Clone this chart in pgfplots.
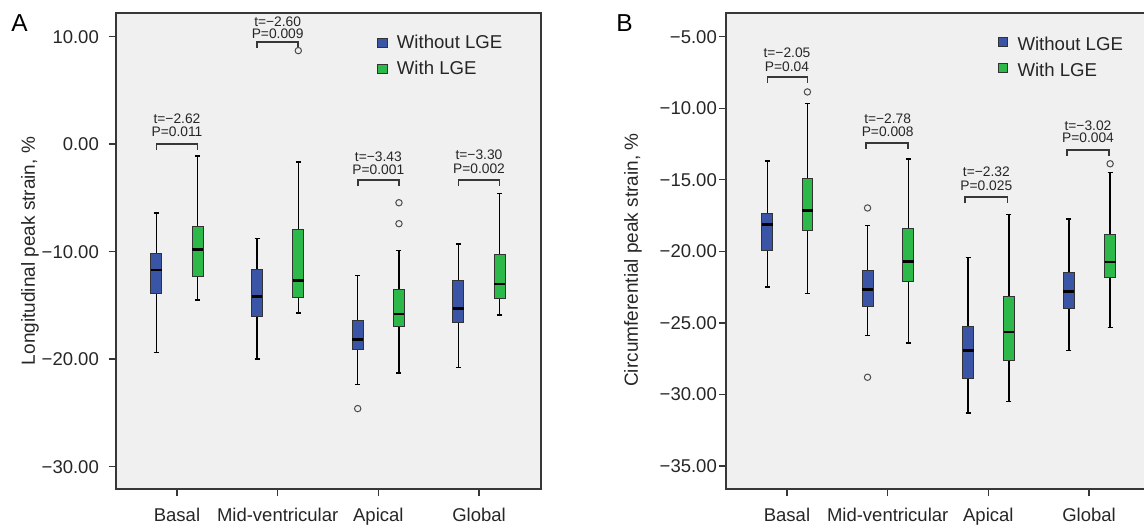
\documentclass[border=0pt]{standalone}
\usepackage{pgfplots}
\pgfplotsset{compat=1.18}
\usepgfplotslibrary{statistics}
\usepackage{fontspec}
\setmainfont{Liberation Sans}
\definecolor{bluebox}{RGB}{58,84,166}
\definecolor{greenbox}{RGB}{45,184,74}
\definecolor{bgc}{RGB}{240,240,240}
\definecolor{framec}{RGB}{55,55,55}

% draw position, lower whisker, lower quartile, median, upper quartile, upper whisker, colour
\newcommand{\bx}[7]{\addplot[boxplot prepared={draw position=#1, lower whisker=#2, lower quartile=#3, median=#4, upper quartile=#5, upper whisker=#6}, fill=#7, draw=black!80, line width=0.9pt] coordinates {};}
\newcommand{\brk}[3]{\draw[framec, line width=1.7pt] ([yshift=-6pt]axis cs:#1,#3) -- (axis cs:#1,#3) -- (axis cs:#2,#3) -- ([yshift=-6pt]axis cs:#2,#3);}
\newcommand{\tp}[5]{\node[font=\fontsize{13.8}{15}\selectfont, inner sep=0pt, text=black!85] at (axis cs:#1,#2) {#3};
  \node[font=\fontsize{13.8}{15}\selectfont, inner sep=0pt, text=black!85] at (axis cs:#1,#4) {#5};}
% legend: square x-offset, square top offset, text x-offset, text baseline offset (from top-left of axis)
\newcommand{\lgd}[4]{%
  \draw[fill=bluebox, draw=black!80, line width=0.8pt] ([xshift=#1, yshift=-#2]rel axis cs:0,1) rectangle ++(9.5pt,-9.5pt);
  \draw[fill=greenbox, draw=black!80, line width=0.8pt] ([xshift=#1, yshift=-#2-26pt]rel axis cs:0,1) rectangle ++(9.5pt,-9.5pt);
  \node[anchor=base west, inner sep=0pt, font=\fontsize{18.6}{20}\selectfont, text=black!85] at ([xshift=#3, yshift=-#4]rel axis cs:0,1) {Without LGE};
  \node[anchor=base west, inner sep=0pt, font=\fontsize{18.6}{20}\selectfont, text=black!85] at ([xshift=#3, yshift=-#4-26pt]rel axis cs:0,1) {With LGE};}

\pgfplotsset{
  mystyle/.style={
    scale only axis, width=425pt, height=476pt, anchor=south west,
    xmin=0.394, xmax=4.616,
    xtick={1,2,3,4}, xticklabels={Basal,Mid-ventricular,Apical,Global},
    xtick pos=bottom, ytick pos=left,
    tick align=outside, major tick length=7pt,
    tick style={framec, line width=1.3pt},
    minor tick num=0,
    axis background/.style={fill=bgc},
    axis line style={framec, line width=1.5pt},
    ticklabel style={font=\fontsize{18.5}{20}\selectfont, text=black!85},
    yticklabel style={inner sep=0pt, anchor=east},
    xticklabel style={inner sep=0pt, text height=13.5pt, text depth=4pt, anchor=north, yshift=-12pt},
    clip=false,
    boxplot/draw direction=y,
    boxplot/box extend=0.108,
    boxplot/whisker extend=0.05,
    boxplot/every whisker/.style={black, line width=1.5pt},
    boxplot/every median/.style={black, line width=2.6pt},
  },
  outl/.style={only marks, mark=*, mark size=3.2pt, mark options={fill=bgc, draw=black!70, line width=1pt}},
}

\begin{document}
\begin{tikzpicture}
% ---------------- Panel A ----------------
\begin{axis}[mystyle, at={(116pt,-489pt)},
  ymin=-32.08, ymax=12.2,
  ytick={-30,-20,-10,0,10}, yticklabels={−30.00,−20.00,−10.00,0.00,10.00},
  yticklabel style={xshift=-10pt},
  every axis y label/.style={at={(rel axis cs:0,0.5)}, anchor=center, xshift=-86pt, rotate=90, font=\fontsize{19}{21}\selectfont, text=black!85},
  ylabel={Longitudinal peak strain, \%},
]
\bx{0.795}{-19.4}{-13.9}{-11.7}{-10.2}{-6.4}{bluebox}
\bx{1.205}{-14.5}{-12.3}{-9.8}{-7.7}{-1.1}{greenbox}
\bx{1.795}{-20.0}{-16.0}{-14.2}{-11.65}{-8.8}{bluebox}
\bx{2.205}{-15.7}{-14.3}{-12.7}{-7.9}{-1.65}{greenbox}
\bx{2.795}{-22.35}{-19.1}{-18.2}{-16.4}{-12.2}{bluebox}
\bx{3.205}{-21.3}{-17.0}{-15.8}{-13.5}{-9.9}{greenbox}
\bx{3.795}{-20.8}{-16.6}{-15.3}{-12.7}{-9.3}{bluebox}
\bx{4.205}{-15.9}{-14.35}{-13.0}{-10.25}{-4.6}{greenbox}
\addplot[outl, forget plot] coordinates {(2.205,8.7) (2.795,-24.6) (3.205,-5.45) (3.205,-7.4)};
\brk{0.795}{1.205}{0}
\tp{1.0}{2.33}{t=−2.62}{1.12}{P=0.011}
\brk{1.795}{2.205}{9.52}
\tp{2.0}{11.35}{t=−2.60}{10.23}{P=0.009}
\brk{2.795}{3.205}{-3.35}
\tp{3.0}{-1.18}{t=−3.43}{-2.42}{P=0.001}
\brk{3.795}{4.205}{-3.35}
\tp{4.0}{-1.02}{t=−3.30}{-2.33}{P=0.002}
\lgd{261.7pt}{25.3pt}{280.7pt}{36pt}
\end{axis}
\node[anchor=base, font=\fontsize{24.5}{26}\selectfont, inner sep=0pt] at (19.5pt,-31.7pt) {A};
% ---------------- Panel B ----------------
\begin{axis}[mystyle, at={(726pt,-489pt)},
  ymin=-36.61, ymax=-3.344,
  ytick={-35,-30,-25,-20,-15,-10,-5}, yticklabels={−35.00,−30.00,−25.00,−20.00,−15.00,−10.00,−5.00},
  yticklabel style={xshift=-2pt},
  every axis y label/.style={at={(rel axis cs:0,0.5)}, anchor=center, xshift=-93pt, yshift=-9pt, rotate=90, font=\fontsize{19}{21}\selectfont, text=black!85},
  ylabel={Circumferential peak strain, \%},
]
\bx{0.805}{-22.49}{-19.93}{-18.14}{-17.35}{-13.67}{bluebox}
\bx{1.203}{-22.96}{-18.54}{-17.14}{-14.93}{-9.68}{greenbox}
\bx{1.800}{-25.89}{-23.84}{-22.68}{-21.33}{-18.2}{bluebox}
\bx{2.205}{-26.4}{-22.12}{-20.72}{-18.4}{-13.56}{greenbox}
\bx{2.800}{-31.31}{-28.89}{-26.93}{-25.28}{-20.42}{bluebox}
\bx{3.205}{-30.49}{-27.61}{-25.65}{-23.16}{-17.44}{greenbox}
\bx{3.800}{-26.93}{-24.0}{-22.82}{-21.47}{-17.74}{bluebox}
\bx{4.210}{-25.33}{-21.86}{-20.74}{-18.79}{-14.49}{greenbox}
\addplot[outl, forget plot] coordinates {(1.203,-8.86) (1.800,-16.97) (1.800,-28.8) (4.210,-13.88)};
\brk{0.805}{1.203}{-7.83}
\tp{1.0}{-6.09}{t=−2.05}{-7.09}{P=0.04}
\brk{1.785}{2.205}{-12.44}
\tp{2.0}{-10.74}{t=−2.78}{-11.67}{P=0.008}
\brk{2.77}{3.19}{-16.21}
\tp{2.98}{-14.46}{t=−2.32}{-15.40}{P=0.025}
\brk{3.78}{4.20}{-12.91}
\tp{3.99}{-11.21}{t=−3.02}{-12.05}{P=0.004}
\lgd{272.3pt}{24.3pt}{291.3pt}{37pt}
\end{axis}
\node[anchor=base, font=\fontsize{24.5}{26}\selectfont, inner sep=0pt] at (624.5pt,-31.7pt) {B};
\pgfresetboundingbox
\path[use as bounding box] (0pt,0pt) rectangle (1144pt,-525pt);
\end{tikzpicture}
\end{document}
